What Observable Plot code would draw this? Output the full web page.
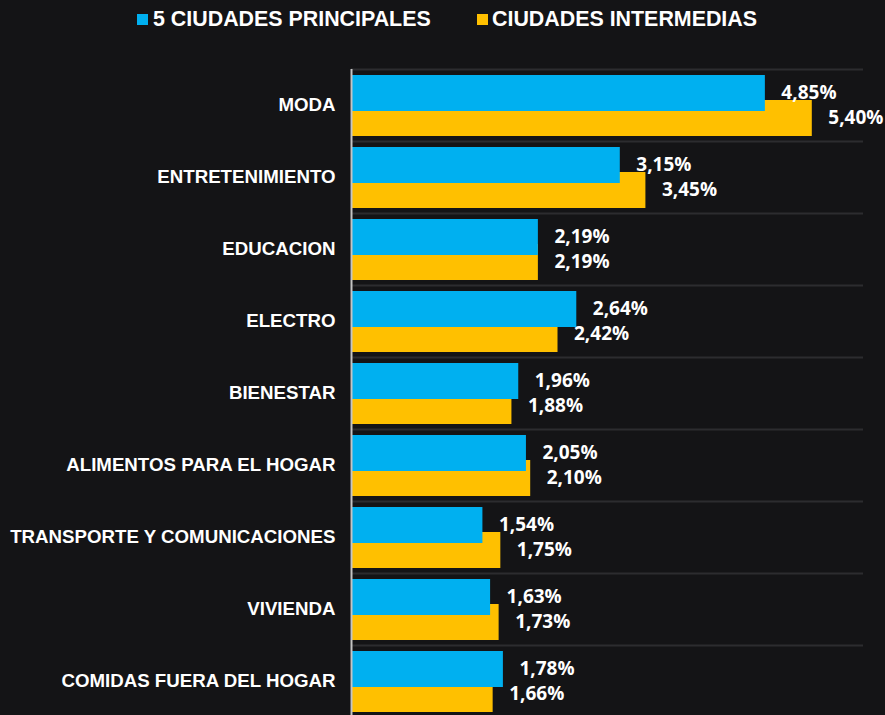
<!DOCTYPE html>
<html><head><meta charset="utf-8">
<script src="https://cdn.jsdelivr.net/npm/d3@7"></script>
<script src="https://cdn.jsdelivr.net/npm/@observablehq/plot@0.6"></script>
<style>
html,body{margin:0;padding:0;background:#141416;width:885px;height:715px;overflow:hidden;}
#legend{position:relative;height:40px;font-family:"Liberation Sans",Arial,sans-serif;font-weight:bold;color:#fff;font-size:21.4px;}
.sw{position:absolute;width:11px;height:11px;top:14px}
.lt{position:absolute;top:7px;line-height:24px;white-space:nowrap}
#chart svg{display:block}
</style></head><body>
<div id="legend"></div>
<div id="chart"></div>
<script>
const categories = ["MODA","ENTRETENIMIENTO","EDUCACION","ELECTRO","BIENESTAR","ALIMENTOS PARA EL HOGAR","TRANSPORTE Y COMUNICACIONES","VIVIENDA","COMIDAS FUERA DEL HOGAR"];
const seriesNames = ["5 CIUDADES PRINCIPALES","CIUDADES INTERMEDIAS"];
const principales = [4.85,3.15,2.19,2.64,1.96,2.05,1.54,1.63,1.78];
const intermedias = [5.40,3.45,2.19,2.42,1.88,2.10,1.75,1.73,1.66];
const colors = ["#00B0F0","#FFC000"];

const fmt = v => d3.format(".2f")(v).replace(".", ",") + "%";
const rows = categories.map((c,i)=>({cat:c, p:principales[i], m:intermedias[i]}));

// legend
const legend = document.getElementById("legend");
const legPos = [[137,153],[477,492]];
seriesNames.forEach((s,i)=>{
  const sw = document.createElement("div");
  sw.className="sw"; sw.style.left=legPos[i][0]+"px"; sw.style.background=colors[i];
  legend.appendChild(sw);
  const t = document.createElement("div");
  t.className="lt"; t.style.left=legPos[i][1]+"px"; t.textContent=s;
  legend.appendChild(t);
});

const valueFont = "'Open Sans', sans-serif";
const chart = Plot.plot({
  width:885, height:677, marginTop:29, marginBottom:0, marginLeft:351, marginRight:22,
  style:{background:"transparent", color:"#fff", fontFamily:"'Liberation Sans', Arial, sans-serif"},
  x:{domain:[0,6], axis:null},
  y:{domain:categories, padding:0},
  marks:[
    Plot.ruleY(categories, {y:d=>d, dy:-36, stroke:"#2c2c2f", strokeWidth:2}),
    Plot.barX(rows,{x:"m", y:"cat", fill:colors[1], insetTop:31, insetBottom:5}),
    Plot.barX(rows,{x:"p", y:"cat", fill:colors[0], insetTop:6, insetBottom:30}),
    Plot.ruleX([0], {stroke:"#c4c4c4", strokeWidth:2}),
    Plot.text(rows,{x:"p", y:"cat", text:d=>fmt(d.p), dx:16, dy:-13, textAnchor:"start", fill:"#fff", fontSize:19, fontWeight:"bold", fontFamily:valueFont}),
    Plot.text(rows,{x:"m", y:"cat", text:d=>fmt(d.m), dx:16, dy:12, textAnchor:"start", fill:"#fff", fontSize:19, fontWeight:"bold", fontFamily:valueFont}),
    Plot.axisY({tickSize:0, tickPadding:16, fontSize:18.7, fontWeight:"bold", fill:"#fff", label:null})
  ]
});
document.getElementById("chart").appendChild(chart);
</script>
</body></html>
